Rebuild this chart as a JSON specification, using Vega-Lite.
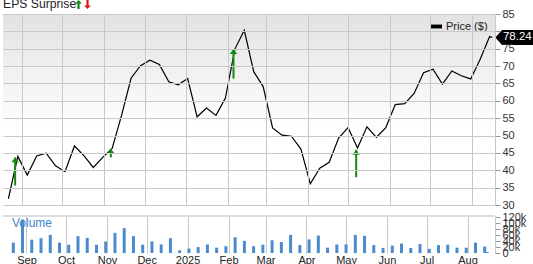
{
  "$schema": "https://vega.github.io/schema/vega-lite/v6.json",
  "padding": {"left": 0, "top": 0, "right": 0, "bottom": 0},
  "spacing": 11,
  "bounds": "flush",
  "resolve": {"legend": {"color": "independent", "shape": "independent", "stroke": "independent"}, "scale": {"color": "independent", "shape": "independent", "stroke": "independent"}},
  "config": {
    "font": "Liberation Sans",
    "view": {"stroke": null},
    "axis": {"labelFont": "Liberation Sans", "labelFontSize": 11, "labelColor": "#333", "gridColor": "#c8c8c8", "gridOpacity": 1, "tickColor": "#999", "domainColor": "#c8c8c8"}
  },
  "datasets": {
    "weekly": [
      {"date": "2024-08-22", "price": 31.8, "volume": 35000},
      {"date": "2024-08-29", "price": 44.0, "volume": 113000},
      {"date": "2024-09-05", "price": 38.6, "volume": 45000},
      {"date": "2024-09-12", "price": 44.1, "volume": 50000},
      {"date": "2024-09-19", "price": 44.9, "volume": 61000},
      {"date": "2024-09-26", "price": 41.3, "volume": 35000},
      {"date": "2024-10-03", "price": 39.6, "volume": 28000},
      {"date": "2024-10-10", "price": 47.0, "volume": 57000},
      {"date": "2024-10-17", "price": 44.2, "volume": 51000},
      {"date": "2024-10-24", "price": 40.8, "volume": 28000},
      {"date": "2024-10-31", "price": 43.7, "volume": 39000},
      {"date": "2024-11-07", "price": 46.3, "volume": 68000},
      {"date": "2024-11-14", "price": 55.9, "volume": 84000},
      {"date": "2024-11-21", "price": 66.5, "volume": 57000},
      {"date": "2024-11-28", "price": 70.1, "volume": 28000},
      {"date": "2024-12-05", "price": 71.7, "volume": 39000},
      {"date": "2024-12-12", "price": 70.5, "volume": 29000},
      {"date": "2024-12-19", "price": 65.5, "volume": 50000},
      {"date": "2024-12-26", "price": 64.6, "volume": 9000},
      {"date": "2025-01-02", "price": 66.4, "volume": 15000},
      {"date": "2025-01-09", "price": 55.4, "volume": 20000},
      {"date": "2025-01-16", "price": 57.9, "volume": 29000},
      {"date": "2025-01-23", "price": 55.8, "volume": 18000},
      {"date": "2025-01-30", "price": 60.8, "volume": 23000},
      {"date": "2025-02-06", "price": 74.9, "volume": 53000},
      {"date": "2025-02-13", "price": 80.3, "volume": 41000},
      {"date": "2025-02-20", "price": 68.4, "volume": 23000},
      {"date": "2025-02-27", "price": 64.1, "volume": 28000},
      {"date": "2025-03-06", "price": 52.2, "volume": 43000},
      {"date": "2025-03-13", "price": 50.1, "volume": 37000},
      {"date": "2025-03-20", "price": 49.8, "volume": 61000},
      {"date": "2025-03-27", "price": 46.1, "volume": 27000},
      {"date": "2025-04-03", "price": 36.1, "volume": 46000},
      {"date": "2025-04-10", "price": 40.6, "volume": 59000},
      {"date": "2025-04-17", "price": 42.3, "volume": 18000},
      {"date": "2025-04-24", "price": 49.3, "volume": 29000},
      {"date": "2025-05-01", "price": 52.3, "volume": 29000},
      {"date": "2025-05-08", "price": 46.4, "volume": 61000},
      {"date": "2025-05-15", "price": 52.5, "volume": 58000},
      {"date": "2025-05-22", "price": 49.5, "volume": 27000},
      {"date": "2025-05-29", "price": 52.3, "volume": 17000},
      {"date": "2025-06-05", "price": 58.9, "volume": 25000},
      {"date": "2025-06-12", "price": 59.2, "volume": 32000},
      {"date": "2025-06-19", "price": 62.1, "volume": 17000},
      {"date": "2025-06-26", "price": 68.1, "volume": 30000},
      {"date": "2025-07-03", "price": 69.1, "volume": 14000},
      {"date": "2025-07-10", "price": 64.8, "volume": 27000},
      {"date": "2025-07-17", "price": 68.6, "volume": 28000},
      {"date": "2025-07-24", "price": 67.2, "volume": 18000},
      {"date": "2025-07-31", "price": 66.3, "volume": 18000},
      {"date": "2025-08-07", "price": 72.0, "volume": 35000},
      {"date": "2025-08-14", "price": 78.5, "volume": 22000},
      {"date": "2025-08-16", "price": 78.24, "volume": 3000, "last": true}
    ],
    "eps": [
      {"date": "2024-08-27", "low": 35.6, "tip": 43.7},
      {"date": "2024-11-06", "low": 43.7, "tip": 46.2},
      {"date": "2025-02-05", "low": 66.4, "tip": 74.9},
      {"date": "2025-05-07", "low": 38.0, "tip": 45.9}
    ],
    "epsLegend": [{"eps": "beat"}, {"eps": "miss"}]
  },
  "vconcat": [
    {
      "width": 492,
      "height": 191,
      "view": {"stroke": null, "fill": {"gradient": "linear", "x1": 0, "y1": 0, "x2": 0, "y2": 1, "stops": [{"offset": 0, "color": "#e2e2e2"}, {"offset": 0.6, "color": "#ffffff"}, {"offset": 1, "color": "#ffffff"}]}},
      "encoding": {
        "x": {"field": "date", "type": "temporal", "scale": {"type": "utc", "domain": [{"year": 2024, "month": 8, "date": 18, "utc": true}, {"year": 2025, "month": 8, "date": 18, "utc": true}]},
          "axis": {"orient": "bottom", "title": null, "grid": true, "labels": false, "ticks": false, "domain": false, "zindex": 1, "tickCount": {"interval": "month", "step": 1}}},
        "y": {"field": "price", "type": "quantitative", "scale": {"domain": [30, 85], "nice": false, "zero": false},
          "axis": {"orient": "right", "title": null, "tickCount": 12, "grid": true, "domain": true, "tickSize": 5, "labelPadding": 2, "labelOverlap": false, "zindex": 1,
            "labelOpacity": {"condition": {"test": "datum.value == 80", "value": 0}, "value": 1}}}
      },
      "layer": [
        {
          "data": {"name": "weekly"},
          "mark": {"type": "line", "strokeWidth": 1.2, "color": "#000"},
          "encoding": {
            "stroke": {"datum": "Price ($)", "type": "nominal", "scale": {"range": ["#000000"]},
              "legend": {"orient": "top-right", "offset": 7, "title": null, "padding": 0, "symbolType": "M-1,-0.35L1,-0.35L1,0.35L-1,0.35Z", "symbolSize": 121, "symbolFillColor": "#000", "symbolStrokeColor": "#000", "symbolStrokeWidth": 0, "labelFontSize": 11, "labelColor": "#222", "labelFont": "Liberation Sans", "labelOffset": 4}}
          }
        },
        {
          "data": {"name": "weekly"},
          "transform": [{"filter": "datum.last === true"}],
          "mark": {"type": "point", "filled": true, "opacity": 1, "color": "#000", "shape": "M0.2,0L0.65,-0.5L2.75,-0.5L2.75,0.5L0.65,0.5Z", "size": 900}
        },
        {
          "data": {"name": "weekly"},
          "transform": [{"filter": "datum.last === true"}],
          "mark": {"type": "text", "color": "#fff", "fontSize": 11.5, "align": "center", "baseline": "middle", "dx": 25, "font": "Liberation Sans"},
          "encoding": {
            "text": {"field": "price", "type": "quantitative", "format": ".2f"}
          }
        },
        {
          "data": {"name": "eps"},
          "mark": {"type": "rule", "color": "#138a13", "strokeWidth": 2},
          "encoding": {
            "y": {"field": "low", "type": "quantitative"},
            "y2": {"field": "tip"}
          }
        },
        {
          "data": {"name": "eps"},
          "mark": {"type": "point", "filled": true, "opacity": 1, "color": "#138a13", "shape": "M0,0L1,1.3L-1,1.3Z", "size": 56},
          "encoding": {
            "y": {"field": "tip", "type": "quantitative"}
          }
        },
        {
          "data": {"name": "epsLegend"},
          "mark": {"type": "point", "filled": true, "opacity": 0},
          "encoding": {
            "x": {"value": 0},
            "y": {"value": 0},
            "color": {"field": "eps", "type": "nominal", "scale": {"domain": ["beat", "miss"], "range": ["#138a13", "#e31a1c"]},
              "legend": {"title": "EPS Surprise", "orient": "none", "legendX": 0, "legendY": -14, "direction": "horizontal", "titleOrient": "left", "labelExpr": "''", "labelFontSize": 1, "titleFontSize": 12.2, "titleFontWeight": "normal", "titleColor": "#222", "titleFont": "Liberation Sans", "symbolSize": 80, "columnPadding": -1, "labelOffset": 0, "titlePadding": -3, "padding": 0, "symbolOpacity": 1, "symbolStrokeWidth": 0}},
            "shape": {"field": "eps", "type": "nominal", "scale": {"domain": ["beat", "miss"], "range": ["M0,-1L0.75,-0.2L0.25,-0.2L0.25,1L-0.25,1L-0.25,-0.2L-0.75,-0.2Z", "M0,1L0.75,0.2L0.25,0.2L0.25,-1L-0.25,-1L-0.25,0.2L-0.75,0.2Z"]},
              "legend": {"title": "EPS Surprise", "orient": "none", "legendX": 0, "legendY": -14, "direction": "horizontal", "titleOrient": "left", "labelExpr": "''", "labelFontSize": 1, "titleFontSize": 12.2, "titleFontWeight": "normal", "titleColor": "#222", "titleFont": "Liberation Sans", "symbolSize": 80, "columnPadding": -1, "labelOffset": 0, "titlePadding": -3, "padding": 0, "symbolOpacity": 1, "symbolStrokeWidth": 0}}
          }
        }
      ]
    },
    {
      "width": 492,
      "height": 37,
      "title": {"text": "Volume", "anchor": "start", "offset": -19, "dx": 10, "fontSize": 12, "fontWeight": "normal", "color": "#3b88c9", "font": "Liberation Sans"},
      "view": {"stroke": null, "fill": null},
      "data": {"name": "weekly"},
      "encoding": {
        "x": {"field": "date", "type": "temporal", "scale": {"type": "utc", "domain": [{"year": 2024, "month": 8, "date": 18, "utc": true}, {"year": 2025, "month": 8, "date": 18, "utc": true}]},
          "axis": {"orient": "bottom", "title": null, "grid": true, "ticks": false, "domain": false, "labelPadding": 1, "labelColor": "#222", "labelOverlap": false, "tickCount": {"interval": "month", "step": 1},
            "labelExpr": "utcmonth(datum.value) == 0 ? utcFormat(datum.value, '%Y') : utcFormat(datum.value, '%b')"}},
        "y": {"field": "volume", "type": "quantitative", "scale": {"domain": [0, 125000], "nice": false},
          "axis": {"orient": "right", "title": null, "tickCount": 7, "grid": false, "domain": true, "tickSize": 5, "labelPadding": 2, "labelOverlap": false, "labelExpr": "datum.value == 0 ? '0' : (datum.value / 1000) + 'k'"}}
      },
      "layer": [
        {
          "mark": {"type": "bar", "size": 3, "color": "#4a8bd0"}
        },
        {
          "mark": {"type": "rule", "color": "#dcdcdc", "strokeWidth": 2},
          "encoding": {"x": {"value": 0}, "x2": {"value": 492}, "y": {"value": 0}}
        }
      ]
    }
  ]
}
